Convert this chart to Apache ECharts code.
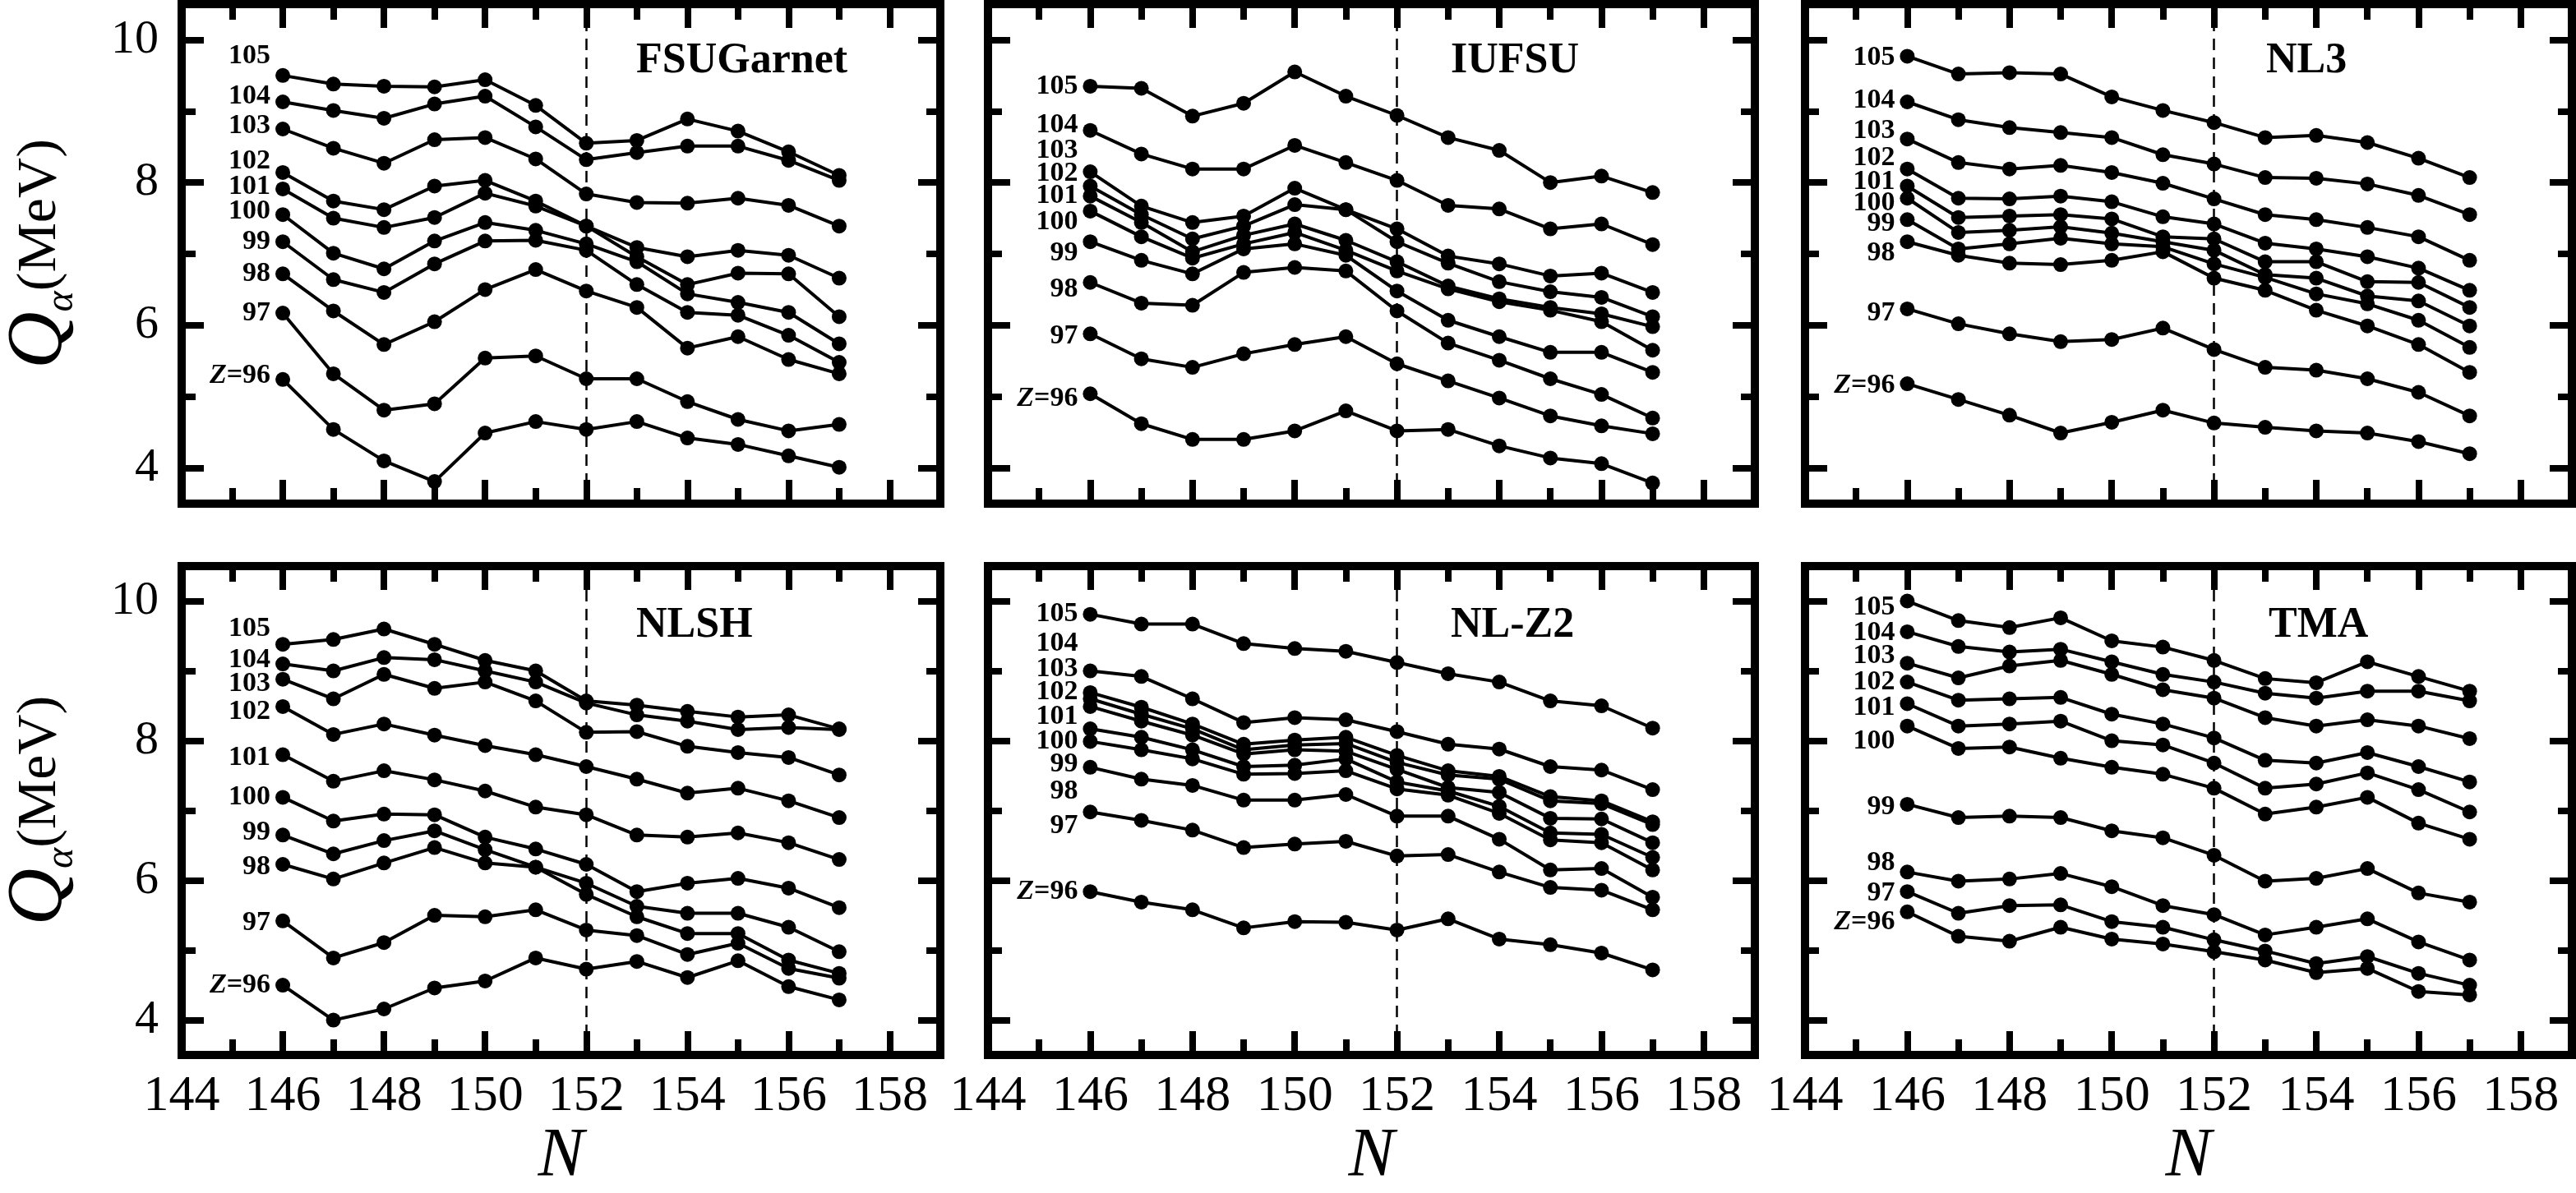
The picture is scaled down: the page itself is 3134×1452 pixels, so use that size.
<!DOCTYPE html>
<html>
<head>
<meta charset="utf-8">
<script src="https://cdn.jsdelivr.net/npm/echarts@6/dist/echarts.min.js"></script>
<style>
html, body { margin: 0; padding: 0; background: #fff; }
#chart { width: 3134px; height: 1452px; }
</style>
</head>
<body>
<div id="chart"></div>
<script>
// neutron number N on the x axis, one row per Z (96 .. 105)
var N = [146, 147, 148, 149, 150, 151, 152, 153, 154, 155, 156, 157];
var zNames = ['Z=96', '97', '98', '99', '100', '101', '102', '103', '104', '105'];
var models = ['FSUGarnet', 'IUFSU', 'NL3', 'NLSH', 'NL-Z2', 'TMA'];
var yTicks = [4, 6, 8, 10];
var yMinorTicks = [5, 7, 9];

// Q_alpha (MeV), rows Z=96 .. 105
var FSUGarnet = [
    [5.24, 4.54, 4.10, 3.81, 4.49, 4.65, 4.54, 4.65, 4.42, 4.33, 4.17, 4.01],
    [6.17, 5.32, 4.81, 4.90, 5.54, 5.57, 5.25, 5.25, 4.93, 4.68, 4.52, 4.61],
    [6.72, 6.20, 5.73, 6.05, 6.50, 6.78, 6.48, 6.25, 5.68, 5.84, 5.52, 5.32],
    [7.17, 6.64, 6.46, 6.86, 7.18, 7.19, 7.05, 6.57, 6.18, 6.14, 5.86, 5.48],
    [7.55, 7.01, 6.79, 7.18, 7.44, 7.33, 7.14, 6.89, 6.44, 6.32, 6.18, 5.74],
    [7.91, 7.50, 7.37, 7.51, 7.85, 7.67, 7.39, 6.96, 6.57, 6.73, 6.72, 6.12],
    [8.14, 7.74, 7.62, 7.95, 8.03, 7.74, 7.39, 7.09, 6.96, 7.05, 6.98, 6.66],
    [8.75, 8.48, 8.27, 8.60, 8.63, 8.33, 7.84, 7.72, 7.71, 7.78, 7.68, 7.39],
    [9.13, 9.01, 8.90, 9.10, 9.21, 8.78, 8.32, 8.42, 8.51, 8.51, 8.31, 8.03],
    [9.50, 9.38, 9.35, 9.34, 9.44, 9.08, 8.55, 8.59, 8.89, 8.72, 8.43, 8.10]
];
var IUFSU = [
    [5.04, 4.62, 4.40, 4.40, 4.52, 4.80, 4.52, 4.54, 4.31, 4.14, 4.06, 3.79],
    [5.88, 5.53, 5.41, 5.60, 5.73, 5.84, 5.46, 5.22, 4.98, 4.73, 4.59, 4.48],
    [6.60, 6.31, 6.28, 6.74, 6.81, 6.76, 6.20, 5.75, 5.51, 5.25, 5.03, 4.70],
    [7.17, 6.91, 6.72, 7.07, 7.14, 6.98, 6.48, 6.07, 5.84, 5.62, 5.62, 5.34],
    [7.60, 7.24, 6.94, 7.14, 7.30, 7.05, 6.76, 6.51, 6.33, 6.21, 6.05, 5.65],
    [7.81, 7.44, 7.03, 7.26, 7.42, 7.19, 6.89, 6.55, 6.37, 6.25, 6.16, 5.98],
    [7.95, 7.55, 7.21, 7.39, 7.69, 7.62, 7.17, 6.87, 6.61, 6.47, 6.39, 6.12],
    [8.15, 7.67, 7.44, 7.53, 7.92, 7.62, 7.35, 6.97, 6.86, 6.69, 6.73, 6.46],
    [8.73, 8.40, 8.19, 8.19, 8.52, 8.28, 8.03, 7.68, 7.63, 7.35, 7.42, 7.13],
    [9.35, 9.32, 8.93, 9.11, 9.55, 9.21, 8.94, 8.63, 8.45, 8.00, 8.09, 7.86]
];
var NL3 = [
    [5.18, 4.96, 4.74, 4.49, 4.64, 4.81, 4.63, 4.57, 4.52, 4.49, 4.37, 4.20],
    [6.23, 6.02, 5.88, 5.77, 5.80, 5.96, 5.66, 5.41, 5.37, 5.25, 5.06, 4.73],
    [7.17, 6.98, 6.87, 6.85, 6.91, 7.03, 6.66, 6.49, 6.21, 5.99, 5.73, 5.34],
    [7.48, 7.07, 7.14, 7.22, 7.14, 7.10, 6.86, 6.67, 6.44, 6.30, 6.07, 5.69],
    [7.78, 7.30, 7.33, 7.38, 7.29, 7.17, 7.05, 6.71, 6.66, 6.41, 6.34, 5.99],
    [7.95, 7.51, 7.53, 7.55, 7.49, 7.24, 7.21, 6.89, 6.89, 6.61, 6.60, 6.25],
    [8.19, 7.78, 7.77, 7.81, 7.73, 7.52, 7.42, 7.15, 7.07, 6.96, 6.80, 6.49],
    [8.61, 8.28, 8.19, 8.24, 8.14, 7.99, 7.77, 7.55, 7.48, 7.37, 7.24, 6.91],
    [9.13, 8.88, 8.77, 8.70, 8.63, 8.39, 8.26, 8.07, 8.06, 7.98, 7.82, 7.55],
    [9.77, 9.52, 9.54, 9.52, 9.20, 9.01, 8.84, 8.63, 8.66, 8.56, 8.34, 8.07]
];
var NLSH = [
    [4.50, 4.00, 4.16, 4.46, 4.56, 4.89, 4.73, 4.84, 4.61, 4.85, 4.48, 4.29],
    [5.42, 4.89, 5.11, 5.50, 5.48, 5.58, 5.29, 5.21, 4.94, 5.10, 4.74, 4.60],
    [6.23, 6.02, 6.25, 6.47, 6.25, 6.19, 5.80, 5.48, 5.24, 5.24, 4.86, 4.67],
    [6.65, 6.38, 6.57, 6.71, 6.44, 6.19, 5.96, 5.63, 5.53, 5.53, 5.33, 4.98],
    [7.19, 6.85, 6.95, 6.94, 6.62, 6.45, 6.23, 5.84, 5.96, 6.03, 5.89, 5.61],
    [7.80, 7.42, 7.57, 7.44, 7.28, 7.05, 6.94, 6.65, 6.62, 6.68, 6.54, 6.30],
    [8.49, 8.09, 8.24, 8.08, 7.93, 7.80, 7.63, 7.45, 7.25, 7.32, 7.14, 6.90],
    [8.88, 8.60, 8.95, 8.75, 8.84, 8.57, 8.12, 8.13, 7.92, 7.83, 7.76, 7.51],
    [9.10, 9.00, 9.19, 9.16, 9.00, 8.84, 8.54, 8.37, 8.28, 8.16, 8.19, 8.16],
    [9.38, 9.45, 9.60, 9.38, 9.15, 9.00, 8.57, 8.51, 8.42, 8.34, 8.37, 8.17]
];
var NLZ2 = [
    [5.84, 5.69, 5.58, 5.32, 5.41, 5.40, 5.29, 5.45, 5.16, 5.08, 4.96, 4.72],
    [6.98, 6.86, 6.72, 6.47, 6.52, 6.56, 6.35, 6.37, 6.12, 5.90, 5.86, 5.58],
    [7.62, 7.45, 7.36, 7.15, 7.15, 7.23, 6.92, 6.92, 6.59, 6.15, 6.17, 5.76],
    [7.99, 7.87, 7.74, 7.52, 7.53, 7.57, 7.31, 7.22, 6.96, 6.58, 6.54, 6.15],
    [8.17, 8.05, 7.87, 7.63, 7.65, 7.74, 7.41, 7.28, 7.06, 6.68, 6.66, 6.33],
    [8.49, 8.28, 8.08, 7.81, 7.87, 7.85, 7.59, 7.33, 7.26, 6.89, 6.88, 6.54],
    [8.60, 8.38, 8.17, 7.87, 7.94, 7.96, 7.69, 7.51, 7.45, 7.14, 7.10, 6.80],
    [8.69, 8.48, 8.24, 7.95, 8.01, 8.05, 7.79, 7.57, 7.49, 7.20, 7.14, 6.84],
    [9.00, 8.92, 8.60, 8.26, 8.33, 8.30, 8.13, 7.95, 7.88, 7.63, 7.58, 7.30],
    [9.81, 9.67, 9.67, 9.39, 9.32, 9.28, 9.12, 8.96, 8.84, 8.57, 8.50, 8.18]
];
var TMA = [
    [5.55, 5.20, 5.13, 5.33, 5.16, 5.09, 4.98, 4.86, 4.68, 4.74, 4.41, 4.36],
    [5.84, 5.53, 5.64, 5.65, 5.41, 5.33, 5.15, 4.99, 4.81, 4.91, 4.67, 4.50],
    [6.12, 5.99, 6.02, 6.10, 5.91, 5.64, 5.51, 5.22, 5.33, 5.45, 5.12, 4.86],
    [7.09, 6.90, 6.92, 6.90, 6.71, 6.61, 6.36, 5.99, 6.03, 6.17, 5.82, 5.69],
    [8.21, 7.89, 7.91, 7.75, 7.62, 7.52, 7.32, 6.95, 7.05, 7.19, 6.82, 6.59],
    [8.53, 8.21, 8.24, 8.28, 8.00, 7.94, 7.68, 7.32, 7.38, 7.54, 7.30, 6.98],
    [8.84, 8.58, 8.60, 8.62, 8.38, 8.24, 8.04, 7.72, 7.68, 7.83, 7.63, 7.41],
    [9.11, 8.90, 9.07, 9.15, 8.95, 8.73, 8.61, 8.33, 8.21, 8.30, 8.21, 8.03],
    [9.56, 9.35, 9.27, 9.31, 9.13, 8.95, 8.84, 8.68, 8.61, 8.71, 8.71, 8.57],
    [10.00, 9.72, 9.62, 9.76, 9.43, 9.34, 9.15, 8.89, 8.83, 9.13, 8.92, 8.71]
];
var panelData = [FSUGarnet, IUFSU, NL3, NLSH, NLZ2, TMA];

// layout (px)
var colLeft = [211, 1202, 2196];
var rowTop = [5, 689];
var gridW = 933, gridH = 608;
var titlePos = [[774, 49], [1765, 49], [2757, 49], [774, 736], [1765, 736], [2760, 736]];
// vertical nudge of the Z labels next to the first point (px, Z=96..105)
var labelShift = [
    [-5, 0, 0, 0, -4, -3, -14, -4, -7, -24],
    [6, 3, 8, 14, 13, 0, -15, -26, -7, 0],
    [2, 5, 14, 5, 6, -5, -13, -10, -2, 2],
    [0, 2, 3, -3, 0, 4, 6, 5, -5, -19],
    [0, 17, 29, 28, 15, 12, -8, -29, -33, 0],
    [12, 2, -11, 3, 19, 5, 0, -9, 1, 8]
];

var SERIF = "'Liberation Serif', 'DejaVu Serif', serif";

var grids = [], xAxes = [], yAxes = [], series = [], titles = [];

function tickStyle(len) {
    return { show: true, inside: true, length: len, lineStyle: { color: '#000', width: 8 } };
}

for (var p = 0; p < 6; p++) {
    var row = Math.floor(p / 3), col = p % 3;
    grids.push({
        left: colLeft[col], top: rowTop[row], width: gridW, height: gridH,
        show: true, borderColor: '#000', borderWidth: 10, backgroundColor: 'transparent'
    });

    // x: bottom major / bottom minor / top major / top minor
    [['bottom', 2, 29], ['bottom', 1, 19], ['top', 2, 29], ['top', 1, 19]].forEach(function (d, k) {
        var ax = {
            type: 'value', gridIndex: p, position: d[0], min: 144, max: 159, interval: d[1],
            axisLine: { show: false }, splitLine: { show: false },
            axisTick: tickStyle(d[2]),
            axisLabel: { show: false }
        };
        if (k === 0 && row === 1) {
            ax.axisLabel = {
                show: true, margin: 20, color: '#000', fontFamily: SERIF, fontSize: 62,
                formatter: function (v) { return v === 159 ? '' : String(v); }
            };
            ax.name = 'N';
            ax.nameLocation = 'middle';
            ax.nameGap = 80;
            ax.nameTextStyle = { color: '#000', fontFamily: SERIF, fontStyle: 'italic', fontSize: 84 };
        }
        xAxes.push(ax);
    });

    // y: left major / left minor / right major / right minor
    [['left', yTicks, 27], ['left', yMinorTicks, 17], ['right', yTicks, 27], ['right', yMinorTicks, 17]].forEach(function (d, k) {
        var ax = {
            type: 'value', gridIndex: p, position: d[0], min: 3.5, max: 10.5,
            axisLine: { show: false }, splitLine: { show: false },
            axisTick: Object.assign(tickStyle(d[2]), { customValues: d[1] }),
            axisLabel: { show: false, customValues: d[1] }
        };
        if (k === 0 && col === 0) {
            ax.axisLabel = {
                show: true, customValues: yTicks, margin: 28, color: '#000',
                fontFamily: SERIF, fontSize: 58
            };
            ax.name = '{q|Q}{a|α}{m|(MeV)}';
            ax.nameLocation = 'middle';
            ax.nameRotate = 90;
            ax.nameGap = 122;
            ax.nameTextStyle = {
                color: '#000', fontFamily: SERIF,
                rich: {
                    q: { fontFamily: SERIF, fontStyle: 'italic', fontSize: 96, color: '#000', lineHeight: 100, verticalAlign: 'middle' },
                    a: { fontFamily: SERIF, fontStyle: 'italic', fontSize: 48, color: '#000', lineHeight: 100, verticalAlign: 'bottom' },
                    m: { fontFamily: SERIF, fontSize: 68, color: '#000', lineHeight: 100, verticalAlign: 'middle' }
                }
            };
        }
        yAxes.push(ax);
    });

    titles.push({
        text: models[p], left: titlePos[p][0], top: titlePos[p][1], padding: 0,
        textStyle: { fontFamily: SERIF, fontWeight: 'bold', fontSize: 52, color: '#000' }
    });

    var rows = panelData[p];
    for (var z = 0; z < rows.length; z++) {
        var pts = N.map(function (n, i) { return [n, rows[z][i]]; });
        var first = {
            value: pts[0],
            label: {
                show: true, position: 'left', distance: 6,
                offset: [0, labelShift[p][z]],
                formatter: z === 0 ? '{i|Z}=96' : zNames[z],
                color: '#000', fontFamily: SERIF, fontWeight: 'bold', fontSize: 34,
                rich: { i: { fontFamily: SERIF, fontWeight: 'bold', fontStyle: 'italic', fontSize: 34, color: '#000' } }
            }
        };
        var s = {
            name: models[p] + ' ' + zNames[z],
            type: 'line',
            xAxisIndex: p * 4, yAxisIndex: p * 4,
            data: [first].concat(pts.slice(1)),
            symbol: 'circle', symbolSize: 18,
            itemStyle: { color: '#000' },
            lineStyle: { color: '#000', width: 4 },
            z: 3
        };
        if (z === 0) {
            s.markLine = {
                silent: true, symbol: ['none', 'none'], label: { show: false },
                lineStyle: { color: '#000', width: 2.5, type: [14, 9] },
                data: [{ xAxis: 152 }]
            };
        }
        series.push(s);
    }
}

var chart = echarts.init(document.getElementById('chart'));
chart.setOption({
    backgroundColor: '#fff',
    animation: false,
    title: titles,
    grid: grids,
    xAxis: xAxes,
    yAxis: yAxes,
    series: series
});
</script>
</body>
</html>
